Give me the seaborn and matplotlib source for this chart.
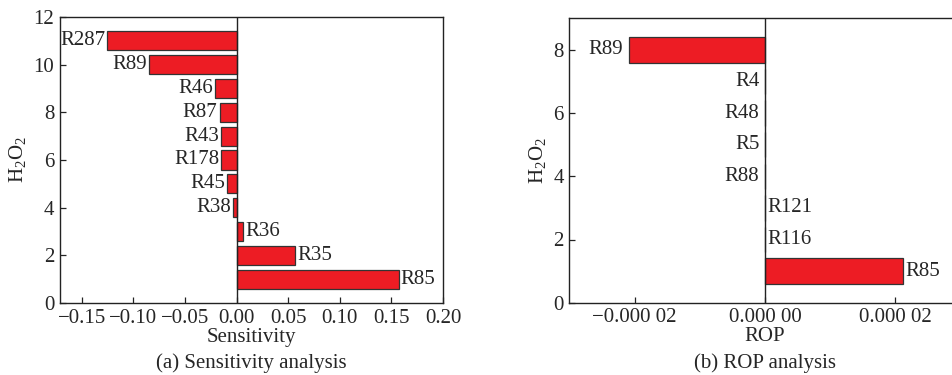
import numpy as np
import pandas as pd
import matplotlib
matplotlib.use("Agg")
import matplotlib.pyplot as plt
import seaborn as sns

# ---- data ----
sens_reactions = ["R85", "R35", "R36", "R38", "R45", "R178", "R43", "R87", "R46", "R89", "R287"]
sens_values = [0.157, 0.057, 0.0064, -0.0033, -0.0091, -0.0146, -0.0146, -0.0163, -0.0208, -0.0847, -0.125]

rop_reactions = ["R85", "R116", "R121", "R88", "R5", "R48", "R4", "R89"]
rop_values = [2.11e-5, 1e-9, 1e-9, -1e-9, -1e-9, -1e-9, -1e-9, -2.09e-5]

sens_xticks = [-0.15, -0.10, -0.05, 0.00, 0.05, 0.10, 0.15, 0.20]
sens_xticklabels = ["\u22120.15", "\u22120.10", "\u22120.05", "0.00", "0.05", "0.10", "0.15", "0.20"]
rop_xticks = [-2e-5, 0.0, 2e-5]
rop_xticklabels = ["\u22120.000 02", "0.000 00", "0.000 02"]

sns.set_theme(style="ticks")
plt.rcParams["font.family"] = ["Liberation Serif", "DejaVu Serif"]
plt.rcParams["mathtext.fontset"] = "custom"
plt.rcParams["mathtext.rm"] = "Liberation Serif"
plt.rcParams["mathtext.it"] = "Liberation Serif:italic"
plt.rcParams["xtick.direction"] = "in"
plt.rcParams["ytick.direction"] = "in"

FS = 15
RED = "#ED1C24"
EDGE = "#333333"

fig = plt.figure(figsize=(9.52, 3.75), dpi=100)
ax1 = fig.add_axes([0.063, 0.192, 0.4023, 0.7627])
ax2 = fig.add_axes([0.598, 0.1928, 0.411, 0.7584])


def draw(ax, names, values, xlim, ylim, yticks, xticks, xticklabels, xlabel, caption, cap_x, pads):
    pos = np.arange(1, len(values) + 1)
    df = pd.DataFrame({"pos": pos, "val": values, "name": names})
    sns.barplot(data=df, x="val", y="pos", orient="h", native_scale=True,
                color=RED, saturation=1, edgecolor=EDGE, linewidth=0.9,
                width=0.8, ax=ax)
    ax.axvline(0, color="#222222", lw=1.0, zorder=3)
    for p, v, n in zip(pos, values, names):
        if v < 0:
            ax.annotate(n, (v, p), xytext=(-pads[0], 0), textcoords="offset points",
                        ha="right", va="center", fontsize=FS)
        else:
            ax.annotate(n, (v, p), xytext=(pads[1], 0), textcoords="offset points",
                        ha="left", va="center", fontsize=FS)
    ax.set_xlim(*xlim)
    ax.set_ylim(*ylim)
    ax.set_yticks(yticks)
    ax.set_yticklabels([str(t) for t in yticks], fontsize=FS)
    ax.set_xticks(xticks)
    ax.set_xticklabels(xticklabels, fontsize=FS)
    ax.tick_params(length=4, width=0.9, color="#222222", pad=4)
    ax.set_xlabel(xlabel, fontsize=FS, labelpad=0)
    ax.set_ylabel(r"$\mathrm{H_2O_2}$", fontsize=FS, labelpad=4)
    for s in ax.spines.values():
        s.set_color("#222222")
        s.set_linewidth(1.0)
    fig.text(cap_x, 0.032, caption, ha="center", va="center", fontsize=FS)


draw(ax1, sens_reactions, sens_values, (-0.171, 0.20), (0, 12), [0, 2, 4, 6, 8, 10, 12],
     sens_xticks, sens_xticklabels, "Sensitivity", "(a) Sensitivity analysis",
     0.063 + 0.4023 / 2, (1.5, 1.5))
draw(ax2, rop_reactions, rop_values, (-3.0e-5, 3.0e-5), (0, 9), [0, 2, 4, 6, 8],
     rop_xticks, rop_xticklabels, "ROP", "(b) ROP analysis",
     765.3 / 952, (4, 2))

fig.savefig("out.png", dpi=100)
